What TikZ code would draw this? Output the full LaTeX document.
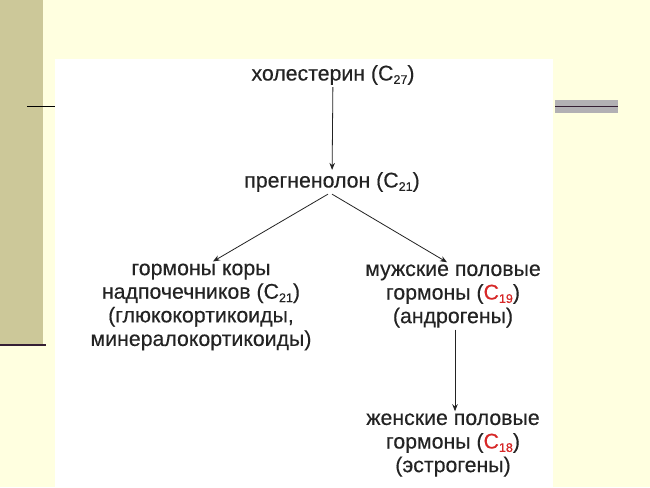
\documentclass[tikz,border=0pt]{standalone}
\usepackage{fontspec}
\setmainfont{Liberation Sans}
\newfontfamily\schemefont[FakeBold=0.3]{Liberation Sans}
\usetikzlibrary{arrows.meta}
\definecolor{cream}{RGB}{255,255,224}
\definecolor{stripe}{RGB}{204,200,153}
\definecolor{barg}{RGB}{178,176,180}
\definecolor{darkline}{RGB}{52,30,52}
\definecolor{txt}{RGB}{35,35,35}
\definecolor{redc}{RGB}{215,40,40}
\tikzset{
  lbl/.style={text=txt,align=center,inner sep=2pt,font=\schemefont\fontsize{21.3}{23.6}\selectfont},
  arr/.style={-{Stealth[length=7pt,width=5.5pt]},draw=txt,line width=0.8pt}
}
\newcommand{\carb}[1]{C\raisebox{-0.3ex}{\fontsize{12.5}{12.5}\selectfont #1}}
\newcommand{\redcarb}[1]{\textcolor{redc}{\carb{#1}}}
\begin{document}
\begin{tikzpicture}[x=1pt,y=-1pt]
        \useasboundingbox (0,0) rectangle (650,487);
        % background of the slide
        \fill[cream] (0,0) rectangle (650,487);
        \fill[stripe] (0,0) rectangle (43,345);
        \draw[darkline,line width=2pt] (0,345)--(46,345);
        \draw[black,line width=1pt] (27,106)--(55,106);
        \fill[barg] (555,100) rectangle (618,113);
        \draw[darkline,line width=1.2pt] (555,106.5)--(618,106.5);
        \fill[white] (55,59) rectangle (553,487);
        % scheme
        \node[lbl] (chol) at (333,75) {холестерин (\carb{27})};
        \node[lbl] (preg) at (332,182) {прегненолон (\carb{21})};
        \node[lbl] (cortex) at (201,307) {гормоны коры\\надпочечников (\carb{21})\\(глюкокортикоиды,\\минералокортикоиды)};
        \node[lbl] (andro) at (453,296) {мужские половые\\гормоны (\redcarb{19})\\(андрогены)};
        \node[lbl] (estro) at (453,445) {женские половые\\гормоны (\redcarb{18})\\(эстрогены)};
        \draw[arr] (chol)--(preg);
        \draw[arr] ([xshift=-4pt]preg.south)--([xshift=12pt]cortex.north);
        \draw[arr] ([xshift=0pt]preg.south)--([xshift=-6pt]andro.north);
        \draw[arr] ([xshift=2pt]andro.south)--([xshift=2pt]estro.north);
    \end{tikzpicture}
\end{document}
